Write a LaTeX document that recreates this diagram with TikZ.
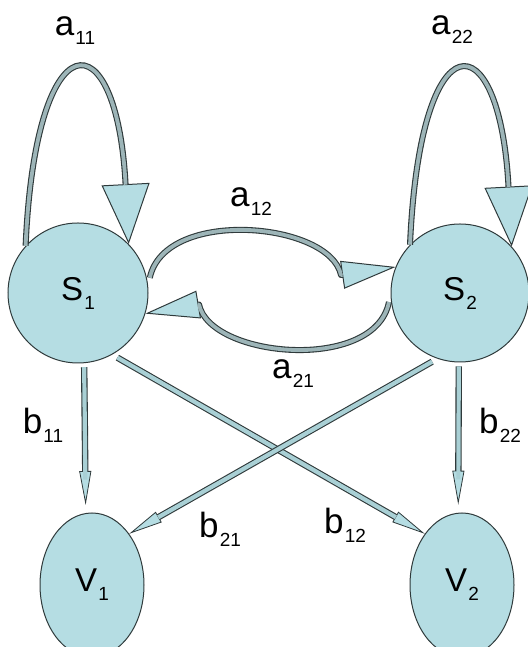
\documentclass[tikz,border=0pt]{standalone}
\usepackage{fontspec}
\setmainfont{Liberation Sans}
\usepackage{xcolor}
\definecolor{cEdge}{HTML}{2F3A3B}
\definecolor{cNode}{HTML}{B5DDE3}
\definecolor{cBand}{HTML}{9DB5B8}
\definecolor{cShaft}{HTML}{A9D0D5}
\usepackage{tikz}
\usetikzlibrary{arrows.meta,shapes.geometric}
\newcommand{\subl}[2]{#1\kern0.6pt\raisebox{-4.5pt}{\fontsize{9.5}{10}\selectfont #2}}
\tikzset{
  node-state/.style={circle,draw=cEdge,line width=0.5pt,fill=cNode,
    minimum size=70pt,inner sep=0pt,font=\fontsize{16.5}{18}\selectfont},
  node-out/.style={ellipse,draw=cEdge,line width=0.5pt,fill=cNode,
    minimum width=52pt,minimum height=72pt,inner sep=0pt,
    font=\fontsize{16.5}{18}\selectfont},
  coef/.style={inner sep=0pt,font=\fontsize{17.5}{19}\selectfont},
  % breite Pfeile: dunkler Rand, heller Kern
  arrow-loop/.style={draw=cEdge,line width=3pt,
    -{Triangle[length=30pt,width=24pt,color=cEdge,fill=cNode,line width=0.5pt]},
    postaction={draw=cBand,line width=1.9pt,-,shorten >=29.7pt}},
  arrow-trans/.style={draw=cEdge,line width=3pt,line join=round,
    -{Triangle[length=27pt,width=14pt,color=cEdge,fill=cNode,line width=0.5pt]},
    postaction={draw=cBand,line width=1.9pt,-,shorten >=26.8pt}},
  arrow-out/.style={draw=cEdge,line width=3.2pt,
    -{Triangle[length=17pt,width=6pt,color=cEdge,fill=cNode,line width=0.4pt]},
    postaction={draw=cShaft,line width=2.1pt,-,shorten >=16.7pt}},
}

\begin{document}
\begin{tikzpicture}[x=0.5pt,y=0.5pt]
  \useasboundingbox (0,0) rectangle (528,647);
  % Zustaende und Ausgaben
  \node[node-state] (s1) at (78,354) {\subl{S}{1}};
  \node[node-state,minimum size=69pt] (s2) at (460,354) {\subl{S}{2}};
  \node[node-out] (v1) at (92,62) {\subl{V}{1}};
  \node[node-out] (v2) at (462,62) {\subl{V}{2}};
  % Selbstuebergaenge
  \draw[arrow-loop] (s1.138) .. controls +(10,229) and +(-12,228) .. (s1.44);
  \draw[arrow-loop] (s2.136) .. controls +(10,229) and +(-12,228) .. (s2.42);
  % Uebergaenge zwischen s1 und s2
  \coordinate (h12) at (341,372);
  \coordinate (h21) at (199,342.5);
  \draw[arrow-trans,shorten <=4pt] (s1.6) .. controls (165,440) and (330,425) .. (h12) -- (s2.158);
  \draw[arrow-trans,shorten <=4pt] (s2.181) .. controls (375,274) and (210,289) .. (h21) -- (s1.-17);
  % Ausgaben
  \draw[arrow-out,shorten <=2pt,shorten >=4pt] (s1.-85) -- (v1.95);
  \draw[arrow-out,shorten <=2pt,shorten >=4pt] (s2.-91) -- (v2.93);
  \draw[arrow-out,shorten <=3pt] (s1.-61) -- (v2.126);
  \draw[arrow-out,shorten <=3pt] (s2.-109) -- (v1.54);
  % Koeffizienten
  \node[coef] (la11) at (75,616) {\subl{a}{11}};
  \node[coef] (la22) at (452,617) {\subl{a}{22}};
  \node[coef] (la12) at (251,445) {\subl{a}{12}};
  \node[coef] (la21) at (293,273) {\subl{a}{21}};
  \node[coef] (lb11) at (43,222) {\subl{b}{11}};
  \node[coef] (lb22) at (500,222) {\subl{b}{22}};
  \node[coef] (lb21) at (220,118) {\subl{b}{21}};
  \node[coef] (lb12) at (345,122) {\subl{b}{12}};
\end{tikzpicture}
\end{document}
